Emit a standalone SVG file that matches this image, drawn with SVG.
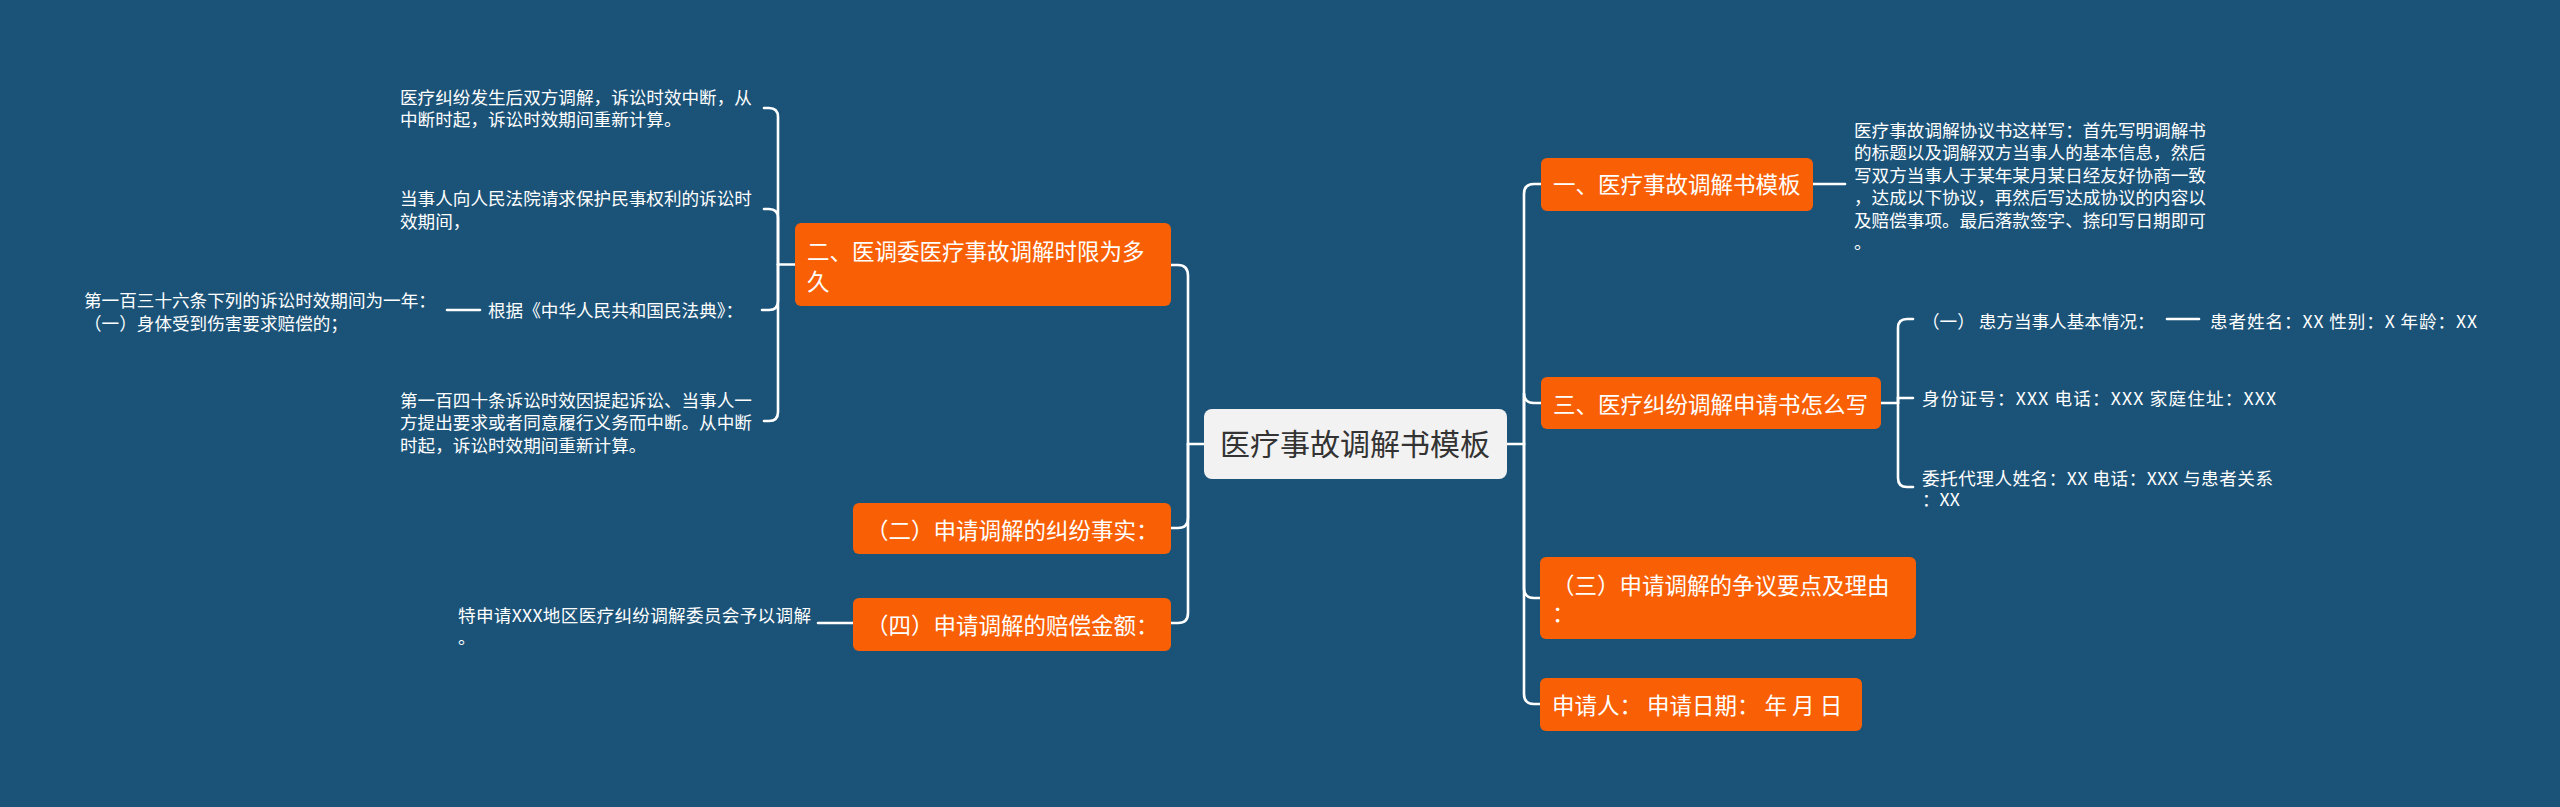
<svg xmlns="http://www.w3.org/2000/svg" width="2560" height="807" viewBox="0 0 2560 807">
<style>
text{font-family:"Noto Sans CJK SC","Microsoft YaHei",sans-serif;}
.box{fill:#f95f05;}
.bt{fill:#ffffff;font-size:22.5px;}
.t{fill:#ffffff;font-size:17.6px;}
.ct{fill:#333333;font-size:30px;}
.c{fill:none;stroke:#ffffff;stroke-width:2.6;stroke-linecap:round;}
</style>
<rect x="0" y="0" width="2560" height="807" fill="#1b5378"/>
<g id="connectors">
<path class="c" d="M1204,444 H1188"/>
<path class="c" d="M1188,444 V276 Q1188,265 1178,265 H1171"/>
<path class="c" d="M1188,444 V518 Q1188,528 1178,528 H1171"/>
<path class="c" d="M1188,444 V613 Q1188,623 1178,623 H1171"/>
<path class="c" d="M1507,444 H1524"/>
<path class="c" d="M1524,444 V194 Q1524,184 1534,184 H1541"/>
<path class="c" d="M1524,444 V393 Q1524,403 1534,403 H1541"/>
<path class="c" d="M1524,444 V588 Q1524,598 1534,598 H1540"/>
<path class="c" d="M1524,444 V694 Q1524,704 1534,704 H1540"/>
<path class="c" d="M795,264.5 H778"/>
<path class="c" d="M778,264.5 V117 Q778,108 769,108 H764"/>
<path class="c" d="M778,264.5 V218 Q778,209 769,209 H764"/>
<path class="c" d="M778,264.5 V301 Q778,310 769,310 H762"/>
<path class="c" d="M778,264.5 V412 Q778,421 769,421 H764"/>
<path class="c" d="M480,310 H447"/>
<path class="c" d="M853,623 H818"/>
<path class="c" d="M1813,184 H1845"/>
<path class="c" d="M1881,403 H1898"/>
<path class="c" d="M1898,403 V328 Q1898,319 1907,319 H1913"/>
<path class="c" d="M1898,403 V398 H1913"/>
<path class="c" d="M1898,403 V478 Q1898,487 1907,487 H1913"/>
<path class="c" d="M2167,319 H2199"/>
</g>
<g id="center">
<rect x="1204" y="409" width="303" height="70" rx="8" fill="#f2f2f2"/>
<text class="ct" x="1220" y="455">医疗事故调解书模板</text>
</g>
<g id="n-er">
<rect class="box" x="795" y="223" width="376" height="83" rx="6"/>
<text class="bt" x="807" y="260">二、医调委医疗事故调解时限为多</text>
<text class="bt" x="807" y="290">久</text>
</g>
<g id="n-er-2">
<rect class="box" x="853" y="503" width="318" height="51" rx="6"/>
<text class="bt" x="866" y="538.5">（二）申请调解的纠纷事实：</text>
</g>
<g id="n-si">
<rect class="box" x="853" y="598" width="318" height="53" rx="6"/>
<text class="bt" x="866" y="633.5">（四）申请调解的赔偿金额：</text>
</g>
<g id="n-yi">
<rect class="box" x="1541" y="158" width="272" height="53" rx="6"/>
<text class="bt" x="1553" y="193">一、医疗事故调解书模板</text>
</g>
<g id="n-san">
<rect class="box" x="1541" y="377" width="340" height="52" rx="6"/>
<text class="bt" x="1553" y="413">三、医疗纠纷调解申请书怎么写</text>
</g>
<g id="n-san-2">
<rect class="box" x="1540" y="557" width="376" height="82" rx="6"/>
<text class="bt" x="1552" y="593.5">（三）申请调解的争议要点及理由</text>
<text class="bt" x="1552" y="622">：</text>
</g>
<g id="n-applicant">
<rect class="box" x="1540" y="678" width="322" height="53" rx="6"/>
<text class="bt" x="1552" y="714">申请人： 申请日期： 年 月 日</text>
</g>
<g id="t-a">
<text class="t" x="400" y="103.5">医疗纠纷发生后双方调解，诉讼时效中断，从</text>
<text class="t" x="400" y="125.5">中断时起，诉讼时效期间重新计算。</text>
</g>
<g id="t-b">
<text class="t" x="400" y="204.5">当事人向人民法院请求保护民事权利的诉讼时</text>
<text class="t" x="400" y="227.5">效期间，</text>
</g>
<g id="t-c">
<text class="t" x="488" y="316.5">根据《中华人民共和国民法典》：</text>
</g>
<g id="t-d">
<text class="t" x="84" y="306.5">第一百三十六条下列的诉讼时效期间为一年：</text>
<text class="t" x="84" y="329.5">（一）身体受到伤害要求赔偿的；</text>
</g>
<g id="t-e">
<text class="t" x="400" y="406.5">第一百四十条诉讼时效因提起诉讼、当事人一</text>
<text class="t" x="400" y="429">方提出要求或者同意履行义务而中断。从中断</text>
<text class="t" x="400" y="451.5">时起，诉讼时效期间重新计算。</text>
</g>
<g id="t-f">
<text class="t" x="458" y="621.5" textLength="353" lengthAdjust="spacing">特申请XXX地区医疗纠纷调解委员会予以调解</text>
<text class="t" x="458" y="644">。</text>
</g>
<g id="t-desc">
<text class="t" x="1854" y="136.5">医疗事故调解协议书这样写：首先写明调解书</text>
<text class="t" x="1854" y="159">的标题以及调解双方当事人的基本信息，然后</text>
<text class="t" x="1854" y="181.5">写双方当事人于某年某月某日经友好协商一致</text>
<text class="t" x="1854" y="204">，达成以下协议，再然后写达成协议的内容以</text>
<text class="t" x="1854" y="226.5">及赔偿事项。最后落款签字、捺印写日期即可</text>
<text class="t" x="1854" y="249">。</text>
</g>
<g id="t-patient">
<text class="t" x="1922" y="327.5">（一） 患方当事人基本情况：</text>
</g>
<g id="t-patient-detail">
<text class="t" x="2210" y="327.5" textLength="267" lengthAdjust="spacing">患者姓名：XX 性别：X 年龄：XX</text>
</g>
<g id="t-id">
<text class="t" x="1922" y="404.5" textLength="354" lengthAdjust="spacing">身份证号：XXX 电话：XXX 家庭住址：XXX</text>
</g>
<g id="t-agent">
<text class="t" x="1922" y="484.5" textLength="351" lengthAdjust="spacing">委托代理人姓名：XX 电话：XXX 与患者关系</text>
<text class="t" x="1922" y="506">：XX</text>
</g>
</svg>
